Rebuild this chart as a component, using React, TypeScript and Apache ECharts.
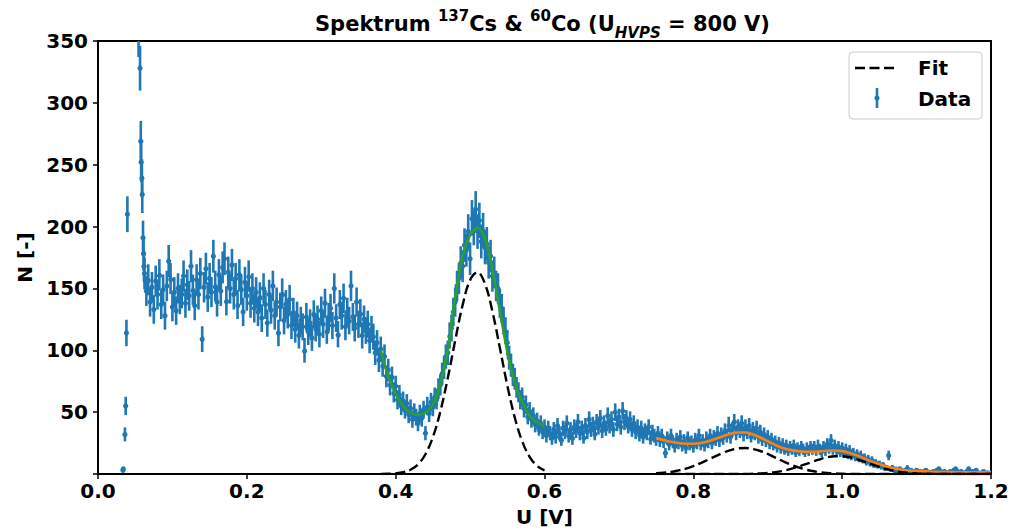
import React, { useEffect, useRef } from "react";
import * as echarts from "echarts";

// ---------- DATA ----------
// main spectrum: bins from 0.0625 V in steps of 0.0025 V
const SPEC_START = 0.0625;
const SPEC_STEP = 0.0025;
const specCounts = [
  // 0.0625 - 0.11
  162, 148, 157, 139, 151, 133, 156, 145, 161, 137, 149, 128, 152, 172, 158, 135, 147, 132, 150, 141,
  // 0.1125 - 0.16
  146, 160, 138, 153, 144, 168, 149, 136, 157, 145, 162, 109, 151, 166, 143, 158, 147, 176, 152, 139,
  // 0.1625 - 0.21
  161, 148, 167, 174, 140, 163, 150, 169, 145, 158, 137, 161, 149, 131, 155, 144, 160, 138, 150, 134,
  // 0.2125 - 0.26
  147, 131, 143, 126, 150, 137, 122, 145, 133, 152, 128, 139, 114, 135, 146, 124, 137, 129, 141, 120,
  // 0.2625 - 0.31
  131, 117, 128, 112, 124, 119, 100, 127, 115, 122, 110, 129, 118, 125, 113, 132, 121, 138, 116, 127,
  // 0.3125 - 0.36
  134, 120, 150, 126, 113, 137, 128, 142, 119, 131, 124, 152, 127, 118, 139, 121, 130, 112, 125, 116,
  // 0.3625 - 0.41
  121, 108, 117, 111, 98, 106, 92, 101, 88, 95, 79, 84, 72, 78, 66, 71, 60, 64, 55, 59,
  // 0.4125 - 0.46
  52, 57, 48, 53, 44, 50, 46, 41, 49, 45, 52, 33, 55, 49, 58, 54, 62, 60, 69, 72,
  // 0.4625 - 0.51
  81, 86, 95, 98, 112, 118, 131, 139, 152, 158, 171, 168, 185, 181, 196, 174, 207, 199, 214, 196,
  // 0.5125 - 0.56
  205, 188, 197, 183, 186, 171, 176, 160, 163, 152, 150, 138, 134, 124, 116, 106, 94, 88, 80, 77,
  // 0.5625 - 0.61
  70, 66, 60, 62, 53, 56, 47, 51, 44, 47, 40, 43, 37, 41, 34, 38, 31, 37, 33, 29,
  // 0.6125 - 0.66
  36, 30, 39, 33, 28, 37, 34, 41, 31, 36, 29, 38, 35, 42, 33, 37, 30, 39, 34, 44,
  // 0.6625 - 0.71
  36, 40, 33, 42, 38, 45, 35, 41, 37, 47, 39, 44, 36, 50, 41, 46, 38, 51, 42, 45,
  // 0.7125 - 0.76
  39, 44, 36, 41, 34, 38, 32, 37, 30, 35, 33, 38, 29, 34, 31, 28, 33, 27, 31, 26,
  // 0.7625 - 0.81
  17, 29, 24, 31, 26, 22, 28, 25, 30, 23, 27, 21, 29, 24, 26, 22, 28, 25, 31, 24,
  // 0.8125 - 0.86
  27, 23, 29, 26, 31, 25, 30, 28, 33, 27, 32, 29, 35, 31, 40, 30, 36, 42, 33, 38,
  // 0.8625 - 0.91
  35, 41, 32, 38, 34, 39, 31, 36, 33, 37, 30, 34, 28, 32, 27, 30, 25, 28, 24, 26,
  // 0.9125 - 0.96
  22, 25, 21, 24, 20, 23, 19, 22, 20, 23, 18, 21, 19, 22, 20, 18, 21, 19, 22, 20,
  // 0.9625 - 1.01
  22, 19, 23, 20, 18, 22, 19, 24, 21, 27, 20, 23, 19, 22, 18, 21, 17, 20, 16, 19,
  // 1.0125 - 1.06
  15, 17, 14, 16, 13, 15, 12, 13, 10, 12, 9, 11, 8, 9, 7, 8, 6, 7, 5, 5,
  // 1.0625 - 1.11
  15, 4, 5, 3, 4, 2, 4, 3, 2, 3, 5, 2, 3, 1, 2, 3, 1, 2, 1, 2,
  // 1.1125 - 1.16
  3, 1, 2, 1, 2, 0, 3, 4, 2, 1, 2, 1, 0, 2, 1, 3, 4, 2, 1, 2,
  // 1.1625 - 1.2
  1, 0, 2, 4, 1, 2, 1, 3, 1, 0, 1, 2, 0, 1, 0, 1,
];

// isolated low-voltage points (noise edge)
const earlyU = [0.0335, 0.034, 0.0362, 0.0372, 0.0382, 0.0395, 0.0545, 0.0565, 0.0575, 0.058, 0.059, 0.0595, 0.0605, 0.0612, 0.0618];
const earlyN = [3, 4, 32, 55, 114, 210, 356, 328, 269, 252, 239, 226, 191, 178, 168];

// Cs-137 photopeak fit (0.38 - 0.60 V)
const csU = [0.38, 0.39, 0.4, 0.41, 0.42, 0.43, 0.44, 0.45, 0.46, 0.47, 0.48, 0.49, 0.5, 0.51, 0.52, 0.53, 0.54, 0.55, 0.56, 0.57, 0.58, 0.59, 0.6];
const csTotal = [100, 79, 65, 55, 49.5, 47.7, 49.5, 56, 73, 100, 143, 176, 193, 199, 190, 165, 132, 99, 74, 58, 47, 42, 38.5];
const csGauss = [0.05, 0.16, 0.5, 1.4, 3.4, 7.7, 16, 29.8, 50.5, 77.5, 108, 136.6, 156.7, 163, 153.7, 131.4, 102, 71.7, 45.8, 26.5, 13.9, 6.6, 2.9];

// Co-60 double-peak fit (0.75 - 1.2 V)
const coU = [0.75, 0.76, 0.77, 0.78, 0.79, 0.8, 0.81, 0.82, 0.83, 0.84, 0.85, 0.86, 0.87, 0.88, 0.89, 0.9, 0.91, 0.92, 0.93, 0.94, 0.95, 0.96, 0.97, 0.98, 0.99, 1.0, 1.01, 1.02, 1.03, 1.04, 1.05, 1.06, 1.07, 1.08, 1.09, 1.1, 1.12, 1.15, 1.2];
const coTotal = [29, 27.5, 26, 25, 24.5, 24.5, 25, 26.5, 28.5, 30.5, 32.5, 33.5, 33.5, 32, 29.5, 26.5, 23.5, 21, 19.5, 18.5, 18, 18, 18.3, 18.8, 19, 18.5, 17, 15, 12.5, 10, 8, 6, 4.5, 3.5, 2.8, 2.3, 1.8, 1.5, 1.4];
const coGauss1 = [0.55, 1.0, 1.7, 2.9, 4.3, 6.4, 8.8, 11.6, 14.4, 17.2, 19.3, 20.7, 21, 20.2, 18.6, 16.2, 13.3, 10.5, 7.8, 5.6, 3.7, 2.4, 1.4, 0.8, 0.45, 0.2, 0.1, 0, 0, 0, 0, 0, 0, 0, 0, 0, 0, 0, 0];
const coGauss2 = [0, 0, 0, 0, 0, 0, 0, 0, 0, 0, 0, 0, 0, 0.25, 0.46, 0.85, 1.5, 2.5, 3.9, 5.7, 7.7, 9.9, 11.9, 13.5, 14.4, 14.4, 13.5, 11.9, 9.9, 7.7, 5.7, 3.9, 2.5, 1.5, 0.85, 0.46, 0.12, 0, 0];

const xTicks = ["0.0", "0.2", "0.4", "0.6", "0.8", "1.0", "1.2"];
const yTicks = [50, 100, 150, 200, 250, 300, 350];

const FONT = "DejaVu Sans";
const BLUE = "#1f77b4";

const pairs = (xs: number[], ys: number[]) => xs.map((x, i) => [x, ys[i]]);

export default function App() {
  const ref = useRef<HTMLDivElement>(null);
  useEffect(() => {
    if (!ref.current) return;
    const chart = echarts.init(ref.current, undefined, { renderer: "svg" });

    const points: number[][] = [];
    earlyU.forEach((u, i) => points.push([u, earlyN[i], Math.sqrt(earlyN[i])]));
    specCounts.forEach((n, i) => {
      const u = +(SPEC_START + i * SPEC_STEP).toFixed(4);
      points.push([u, n, Math.sqrt(n)]);
    });

    const dashed = { color: "#000", width: 2.4, type: [10, 4.5] as number[] };

    chart.setOption({
      animation: false,
      textStyle: { fontFamily: FONT },
      title: {
        left: 315,
        top: 8,
        padding: 0,
        text: "{b|Spektrum }{sup|137}{b|Cs & }{sup|60}{b|Co (U}{sub|HVPS}{b| = 800 V)}",
        textStyle: {
          rich: {
            b: { fontFamily: FONT, fontWeight: "bold", fontSize: 21, color: "#000", lineHeight: 32 },
            sup: { fontFamily: FONT, fontWeight: "bold", fontSize: 15, color: "#000", lineHeight: 18, verticalAlign: "top" },
            sub: { fontFamily: FONT, fontWeight: "bold", fontStyle: "italic", fontSize: 15, color: "#000", lineHeight: 16, verticalAlign: "bottom" },
          },
        },
      },
      grid: {
        left: 98,
        right: 21,
        top: 41,
        bottom: 54,
        show: true,
        borderColor: "#000",
        borderWidth: 2,
        backgroundColor: "transparent",
      },
      xAxis: {
        type: "value",
        min: 0,
        max: 1.2,
        interval: 0.2,
        name: "U [V]",
        nameLocation: "middle",
        nameGap: 33,
        nameTextStyle: { fontFamily: FONT, fontWeight: "bold", fontSize: 20, color: "#000" },
        axisLine: { show: true, lineStyle: { color: "#000", width: 2 } },
        axisTick: { show: true, length: 5, lineStyle: { color: "#000", width: 1.5 } },
        axisLabel: {
          margin: 7,
          fontFamily: FONT,
          fontWeight: "bold",
          fontSize: 20,
          color: "#000",
          formatter: (v: number) => xTicks[Math.round(v / 0.2)] ?? "",
        },
        splitLine: { show: false },
      },
      yAxis: {
        type: "value",
        min: 0,
        max: 350,
        interval: 50,
        name: "N [-]",
        nameLocation: "middle",
        nameRotate: 90,
        nameGap: 62,
        nameTextStyle: { fontFamily: FONT, fontWeight: "bold", fontSize: 20, color: "#000" },
        axisLine: { show: true, lineStyle: { color: "#000", width: 2 } },
        axisTick: { show: true, length: 5, lineStyle: { color: "#000", width: 1.5 } },
        axisLabel: {
          margin: 10,
          fontFamily: FONT,
          fontWeight: "bold",
          fontSize: 20,
          color: "#000",
          formatter: (v: number) => (yTicks.includes(v) ? String(v) : ""),
        },
        splitLine: { show: false },
      },
      series: [
        {
          type: "custom",
          name: "Data",
          clip: true,
          z: 2,
          data: points,
          encode: { x: 0, y: 1 },
          renderItem: (_params: any, api: any) => {
            const x = api.value(0);
            const y = api.value(1);
            const e = api.value(2);
            const c = api.coord([x, y]);
            const t = api.coord([x, y + e]);
            const b = api.coord([x, y - e]);
            return {
              type: "group",
              children: [
                { type: "line", shape: { x1: c[0], y1: t[1], x2: c[0], y2: b[1] }, style: { stroke: BLUE, lineWidth: 2.6 } },
                { type: "circle", shape: { cx: c[0], cy: c[1], r: 2.6 }, style: { fill: BLUE } },
              ],
            };
          },
        },
        {
          type: "line",
          data: pairs(csU, csTotal),
          showSymbol: false,
          smooth: 0.4,
          z: 4,
          lineStyle: { color: "#2ca02c", width: 2.6 },
        },
        {
          type: "line",
          data: pairs(csU, csGauss),
          showSymbol: false,
          smooth: 0.4,
          z: 5,
          lineStyle: dashed,
        },
        {
          type: "line",
          data: pairs(coU, coTotal),
          showSymbol: false,
          smooth: 0.4,
          z: 4,
          lineStyle: { color: "#ff7f0e", width: 2.6 },
        },
        {
          type: "line",
          data: pairs(coU, coGauss1),
          showSymbol: false,
          smooth: 0.4,
          z: 5,
          lineStyle: dashed,
        },
        {
          type: "line",
          data: pairs(coU, coGauss2),
          showSymbol: false,
          smooth: 0.4,
          z: 5,
          lineStyle: dashed,
        },
      ],
      graphic: [
        {
          type: "group",
          z: 100,
          children: [
            {
              type: "rect",
              shape: { x: 849, y: 52, width: 133, height: 67, r: 4 },
              style: { fill: "rgba(255,255,255,0.8)", stroke: "#cccccc", lineWidth: 1 },
            },
            {
              type: "line",
              shape: { x1: 855, y1: 68, x2: 898, y2: 68 },
              style: { stroke: "#000", lineWidth: 2.4, lineDash: [10, 4.5] },
            },
            {
              type: "line",
              shape: { x1: 877, y1: 88, x2: 877, y2: 108 },
              style: { stroke: BLUE, lineWidth: 2.6 },
            },
            { type: "circle", shape: { cx: 877, cy: 98, r: 2.6 }, style: { fill: BLUE } },
            {
              type: "text",
              x: 918,
              y: 68,
              style: { text: "Fit", font: `bold 20px '${FONT}'`, fill: "#000", textVerticalAlign: "middle", verticalAlign: "middle" },
            },
            {
              type: "text",
              x: 918,
              y: 99,
              style: { text: "Data", font: `bold 20px '${FONT}'`, fill: "#000", textVerticalAlign: "middle", verticalAlign: "middle" },
            },
          ],
        },
      ],
    });

    return () => chart.dispose();
  }, []);

  return <div ref={ref} style={{ position: "fixed", left: 0, top: 0, width: 1012, height: 532, background: "#fff" }} />;
}
